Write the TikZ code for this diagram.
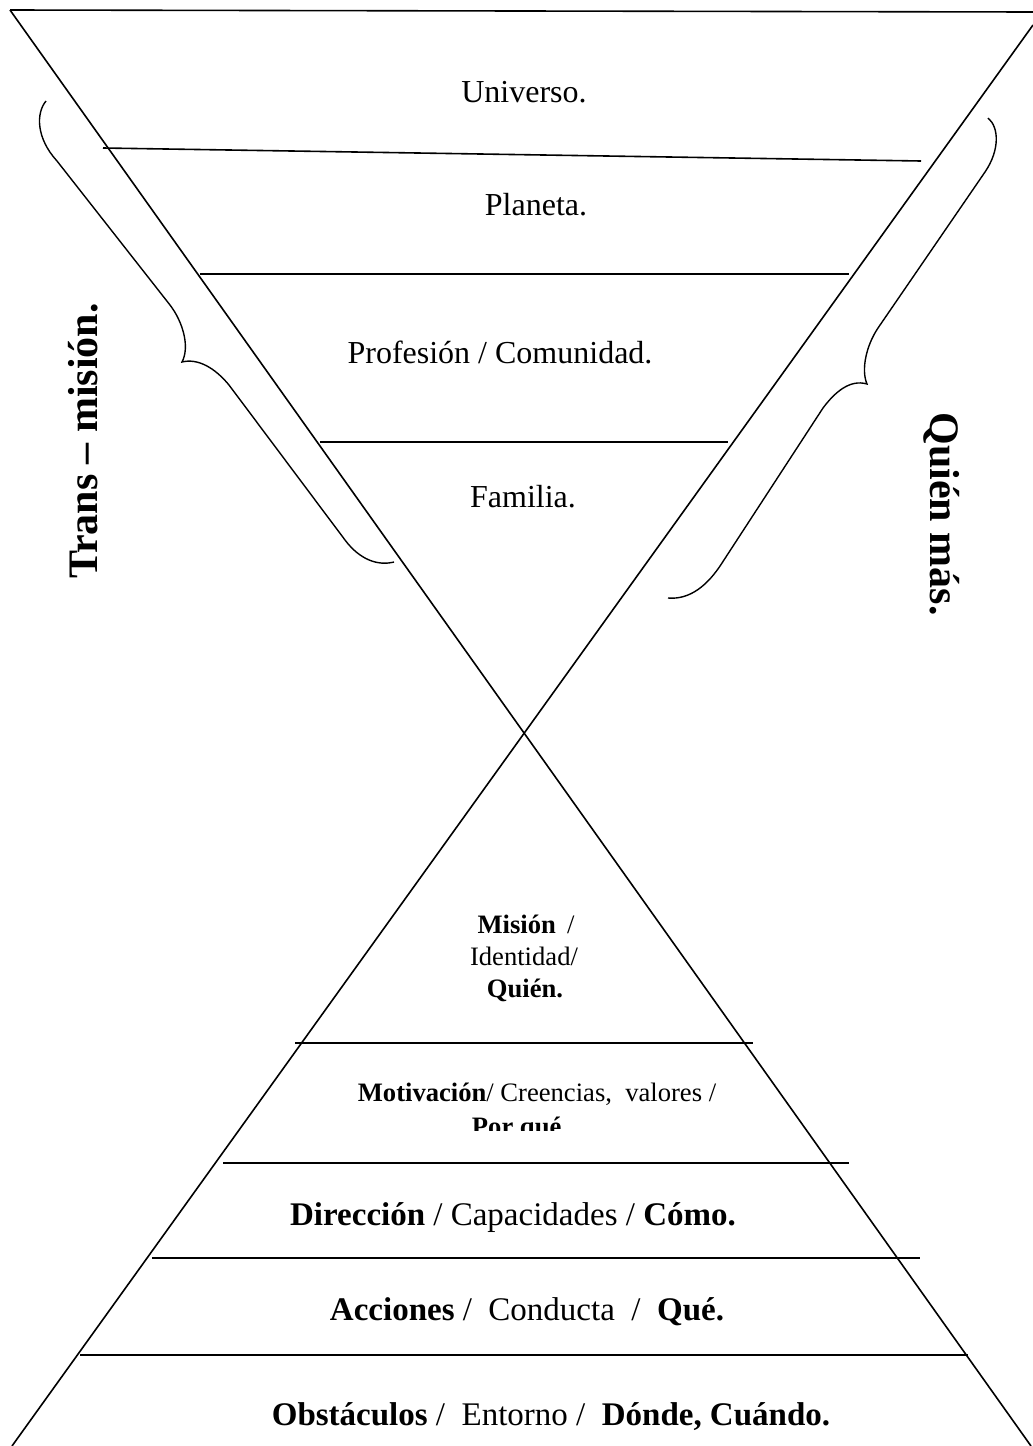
\documentclass[tikz,border=0pt]{standalone}
\usepackage{fontspec}
\setmainfont{Liberation Serif}
\begin{document}
\begin{tikzpicture}[x=0.5pt,y=-0.5pt,line width=0.8pt] % reloj de arena
\tikzstyle{arriba} = [font=\fontsize{16}{19}\selectfont, anchor=base, inner sep=0pt] % niveles de arriba
\tikzstyle{medio} = [font=\fontsize{13.3}{16}\selectfont, anchor=base, inner sep=0pt] % niveles del centro
\tikzstyle{abajo} = [font=\fontsize{16.5}{20}\selectfont, anchor=base, inner sep=0pt] % niveles de abajo
\tikzstyle{lado} = [font=\fontsize{21}{25}\selectfont\bfseries, inner sep=0pt] % textos de los costados
\useasboundingbox (0,0) rectangle (1033,1446);
% esquinas del reloj
\coordinate (supizq) at (10,10);
\coordinate (supder) at (1033,12);
\coordinate (diagder) at (1033,25);
\coordinate (infizq) at (12,1446);
\coordinate (infder) at (1031,1446);
\draw (supizq) -- (supder);
\draw (supizq) -- (infder);
\draw (diagder) -- (infizq);
% lineas de los niveles
\draw (103,148) -- (921,161);
\draw (200,274) -- (849,274);
\draw (320,442) -- (728,442);
\draw (295,1043) -- (753,1043);
\draw (223,1163) -- (849,1163);
\draw (152,1258) -- (920,1258);
\draw (80,1355) -- (968,1355);
% llaves
\draw[line width=0.7pt] (46,101) .. controls (36,113) and (36,138) .. (57,161) -- (170,305) .. controls (183,322) and (190,347) .. (182,362)
      .. controls (198,358) and (215,368) .. (229,385) -- (345,540) .. controls (360,560) and (378,566) .. (394,562);
\draw[line width=0.7pt] (988,118) .. controls (999,127) and (1000,150) .. (985,172) -- (878,328) .. controls (866,346) and (861,370) .. (867,384)
      .. controls (850,379) and (835,392) .. (823,408) -- (722,563) .. controls (708,585) and (690,600) .. (668,598);
% textos
\node[arriba] (universo) at (524,102) {Universo.};
\node[arriba] (planeta) at (536,215) {Planeta.};
\node[arriba] (profesion) at (500,363) {Profesión / Comunidad.};
\node[arriba] (familia) at (523,507) {Familia.};
\node[medio] (mision) at (526,933) {\textbf{Misión}\, /};
\node[medio] (identidad) at (524,965) {Identidad/};
\node[medio] (quien) at (525,997) {\textbf{Quién.}};
\node[medio] (motivacion) at (537,1101) {\textbf{Motivación}/ Creencias,\ \ valores /};
\begin{scope}
\clip (300,1100) rectangle (760,1130);
\node[medio] (porque) at (520,1135) {\textbf{Por qué}.};
\end{scope}
\node[abajo] (direccion) at (513,1225) {\textbf{Dirección} /\ Capacidades /\ \textbf{Cómo.}};
\node[abajo] (acciones) at (527,1320) {\textbf{Acciones} / \ Conducta \ / \ \textbf{Qué.}};
\node[abajo] (obstaculos) at (551,1425) {\textbf{Obstáculos} / \ Entorno / \ \textbf{Dónde, Cuándo.}};
\node[lado, rotate=90] (trans) at (83,441) {Trans – misión.};
\node[lado, rotate=-90] (quienmas) at (942,514) {Quién más.};
\end{tikzpicture}
\end{document}
